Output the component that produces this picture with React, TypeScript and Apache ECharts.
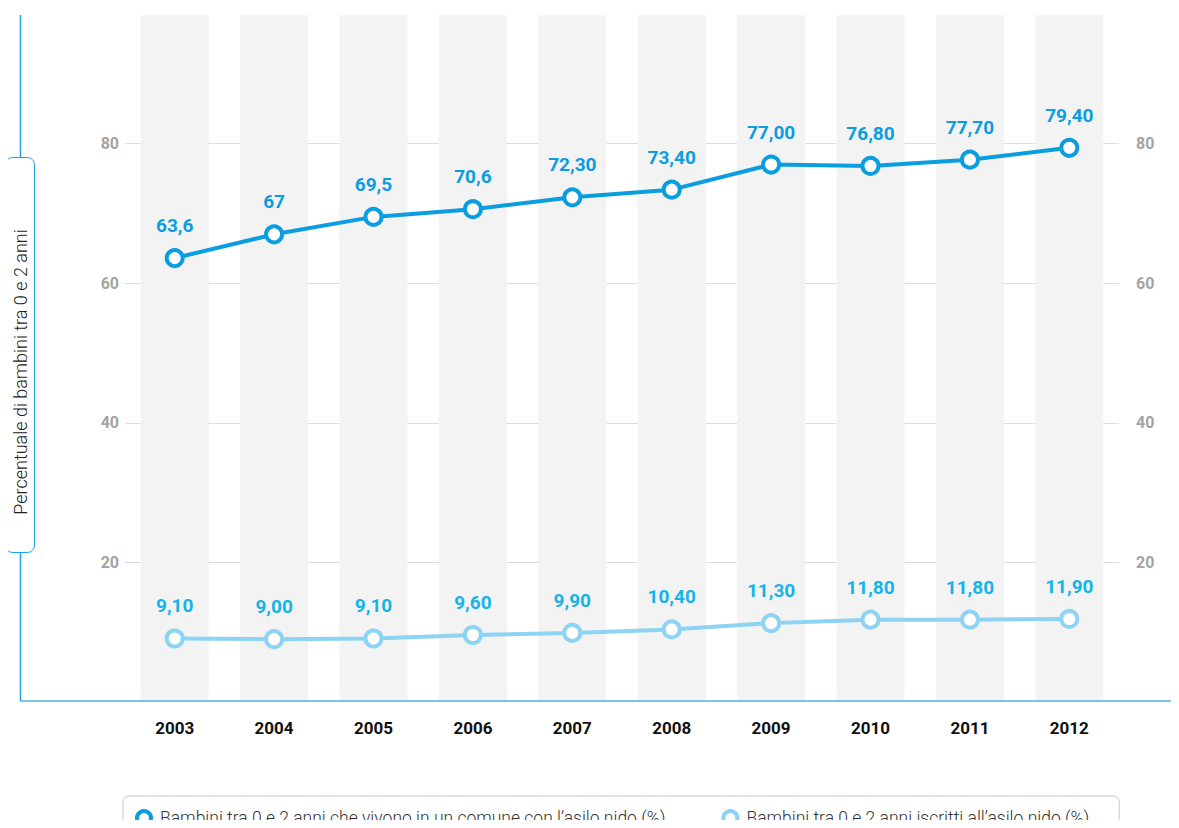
import React, { useEffect, useRef } from "react";
import * as echarts from "echarts";

const years = ["2003", "2004", "2005", "2006", "2007", "2008", "2009", "2010", "2011", "2012"];
const conAsilo = [63.6, 67, 69.5, 70.6, 72.3, 73.4, 77.0, 76.8, 77.7, 79.4];
const conAsiloLabels = ["63,6", "67", "69,5", "70,6", "72,30", "73,40", "77,00", "76,80", "77,70", "79,40"];
const iscritti = [9.1, 9.0, 9.1, 9.6, 9.9, 10.4, 11.3, 11.8, 11.8, 11.9];
const iscrittiLabels = ["9,10", "9,00", "9,10", "9,60", "9,90", "10,40", "11,30", "11,80", "11,80", "11,90"];
const bandTop = [98.4, 98.4, 98.4, 98.4, 98.4, 98.4, 98.4, 98.4, 98.4, 98.4];

const name1 = "Bambini tra 0 e 2 anni che vivono in un comune con l\u2019asilo nido (%)";
const name2 = "Bambini tra 0 e 2 anni iscritti all\u2019asilo nido (%)";
const yTitle = "Percentuale di bambini tra 0 e 2 anni";

const BLUE = "#0a9de0";
const LIGHT = "#8cd3f4";
const LIGHT_LABEL = "#14b4ea";
const FONT = "Roboto, 'Noto Sans', sans-serif";

export default function App() {
  const ref = useRef<HTMLDivElement>(null);
  useEffect(() => {
    if (!ref.current) return;
    const chart = echarts.init(ref.current, null, { renderer: "svg" });
    const yAxisBase = {
      type: "value" as const,
      min: 0,
      max: 100,
      interval: 20,
      axisLine: { show: false },
      axisTick: { show: false },
    };
    chart.setOption({
      animation: false,
      textStyle: { fontFamily: FONT },
      grid: { left: 125, right: 60, top: 4, bottom: 126, containLabel: false },
      xAxis: {
        type: "category",
        data: years,
        boundaryGap: true,
        axisLine: { show: false },
        axisTick: { show: false },
        axisLabel: { color: "#111", fontWeight: "bold", fontSize: 17, margin: 17, fontFamily: FONT },
      },
      yAxis: [
        {
          ...yAxisBase,
          position: "left",
          axisLabel: {
            color: "#a3a3a3",
            fontWeight: "bold",
            fontSize: 16,
            margin: 6,
            showMinLabel: false,
            showMaxLabel: false,
            fontFamily: FONT,
          },
          splitLine: {
            show: true,
            lineStyle: {
              color: ["rgba(0,0,0,0)", "#dcdcdc", "#dcdcdc", "#dcdcdc", "#dcdcdc", "rgba(0,0,0,0)"],
              width: 1,
            },
          },
        },
        {
          ...yAxisBase,
          position: "right",
          axisLabel: {
            color: "#a3a3a3",
            fontWeight: "bold",
            fontSize: 16,
            margin: 17,
            showMinLabel: false,
            showMaxLabel: false,
            fontFamily: FONT,
          },
          splitLine: { show: false },
        },
      ],
      legend: {
        left: 123,
        top: 796,
        padding: [13, 30, 12, 12],
        borderColor: "#c8c8c8",
        borderWidth: 1,
        borderRadius: 6,
        itemGap: 56,
        itemWidth: 14,
        itemHeight: 14,
        icon: "circle",
        textStyle: { fontSize: 17.5, color: "#333", fontFamily: FONT, fontWeight: 300, padding: [0, 0, 0, 4] },
        data: [
          { name: name1, itemStyle: { color: "#fff", borderColor: BLUE, borderWidth: 4 } },
          { name: name2, itemStyle: { color: "#fff", borderColor: LIGHT, borderWidth: 4 } },
        ],
      },
      graphic: [
        {
          type: "line",
          shape: { x1: 20.5, y1: 15, x2: 20.5, y2: 701 },
          style: { stroke: "#1ea2e0", lineWidth: 1.5 },
          z: 1,
        },
        {
          type: "line",
          shape: { x1: 20, y1: 701, x2: 1179, y2: 701 },
          style: { stroke: "#52b4e2", lineWidth: 1.5 },
          z: 1,
        },
        {
          type: "rect",
          shape: { x: 5.5, y: 157.5, width: 29, height: 395, r: 7 },
          style: { fill: "#fff", stroke: "#1ea2e0", lineWidth: 1 },
          z: 5,
        },
        {
          type: "text",
          x: 20,
          y: 372,
          rotation: Math.PI / 2,
          z: 6,
          style: {
            text: yTitle,
            fontSize: 18,
            fontFamily: FONT,
            fontWeight: 300,
            fill: "#222",
            align: "center",
            verticalAlign: "middle",
          },
        },
      ],
      series: [
        {
          type: "bar",
          name: "bande",
          data: bandTop,
          barWidth: 68,
          silent: true,
          itemStyle: { color: "#f3f3f3" },
          z: 0,
          legendHoverLink: false,
        },
        {
          type: "line",
          name: name1,
          data: conAsilo,
          symbol: "circle",
          symbolSize: 16,
          lineStyle: { color: BLUE, width: 4 },
          itemStyle: { color: "#fff", borderColor: BLUE, borderWidth: 4 },
          label: {
            show: true,
            position: "top",
            distance: 13,
            color: BLUE,
            fontWeight: "bold",
            fontSize: 19,
            fontFamily: FONT,
            formatter: (p: any) => conAsiloLabels[p.dataIndex],
          },
          z: 3,
        },
        {
          type: "line",
          name: name2,
          data: iscritti,
          symbol: "circle",
          symbolSize: 16,
          lineStyle: { color: LIGHT, width: 4 },
          itemStyle: { color: "#fff", borderColor: LIGHT, borderWidth: 4 },
          label: {
            show: true,
            position: "top",
            distance: 13,
            color: LIGHT_LABEL,
            fontWeight: "bold",
            fontSize: 19,
            fontFamily: FONT,
            formatter: (p: any) => iscrittiLabels[p.dataIndex],
          },
          z: 3,
        },
      ],
    });
    return () => chart.dispose();
  }, []);
  return <div ref={ref} style={{ width: 1179, height: 828, margin: -8 }} />;
}
